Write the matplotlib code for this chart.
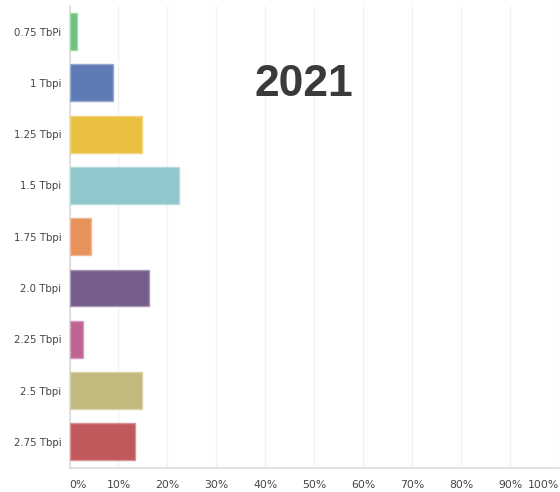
import matplotlib
matplotlib.use("Agg")
import matplotlib.pyplot as plt
from matplotlib.colors import to_rgb

categories = ["0.75 TbPi", "1 Tbpi", "1.25 Tbpi", "1.5 Tbpi", "1.75 Tbpi",
              "2.0 Tbpi", "2.25 Tbpi", "2.5 Tbpi", "2.75 Tbpi"]
shares = [1.5, 8.9, 14.8, 22.3, 4.3, 16.2, 2.8, 14.8, 13.3]
colors = ["#6cc27c", "#5f7bb6", "#e9c03f", "#8fc7cc", "#e8925b",
          "#765e8c", "#bd6494", "#c2b97f", "#c1585c"]
xticks = [0, 10, 20, 30, 40, 50, 60, 70, 80, 90, 100]
xtick_labels = [f"{t}%" for t in xticks]
title = "2021"

W, H = 560, 492
fig = plt.figure(figsize=(W / 100, H / 100), dpi=100)
ax = fig.add_axes([69.5 / W, (H - 467.5) / H, (559 - 69.5) / W, (467.5 - 6) / H])


def lighten(c, f=0.35):
    r, g, b = to_rgb(c)
    return (r + (1 - r) * f, g + (1 - g) * f, b + (1 - b) * f)


ypos = list(range(len(categories)))
ax.barh(ypos, shares, height=0.72, color=colors,
        edgecolor=[lighten(c) for c in colors], linewidth=1.0, zorder=3)

ax.set_ylim(len(categories) - 0.5, -0.5)
ax.set_xlim(0, 100)
ax.set_yticks(ypos)
ax.set_yticklabels(categories, fontsize=7.3, color="#444444", family="DejaVu Sans")
ax.set_xticks(xticks)
ax.set_xticklabels(xtick_labels, fontsize=7.8, color="#444444", family="DejaVu Sans")
lbls = ax.get_xticklabels()
lbls[0].set_horizontalalignment("left")
lbls[-1].set_horizontalalignment("right")

ax.tick_params(axis="both", length=0)
ax.tick_params(axis="y", pad=6)
ax.tick_params(axis="x", pad=9)
ax.grid(axis="x", color="#f3f3f3", linewidth=1.0, zorder=0)
for s in ["top", "right"]:
    ax.spines[s].set_visible(False)
ax.spines["left"].set_color("#dcdcdc")
ax.spines["bottom"].set_color("#dcdcdc")
ax.spines["left"].set_linewidth(1.2)
ax.spines["bottom"].set_linewidth(1.2)

fig.text(304 / W, 1 - 84 / H, title, fontsize=32, fontweight="bold",
         color="#3a3a3a", ha="center", va="center", family="Liberation Sans")

fig.savefig("out.png", dpi=100)
